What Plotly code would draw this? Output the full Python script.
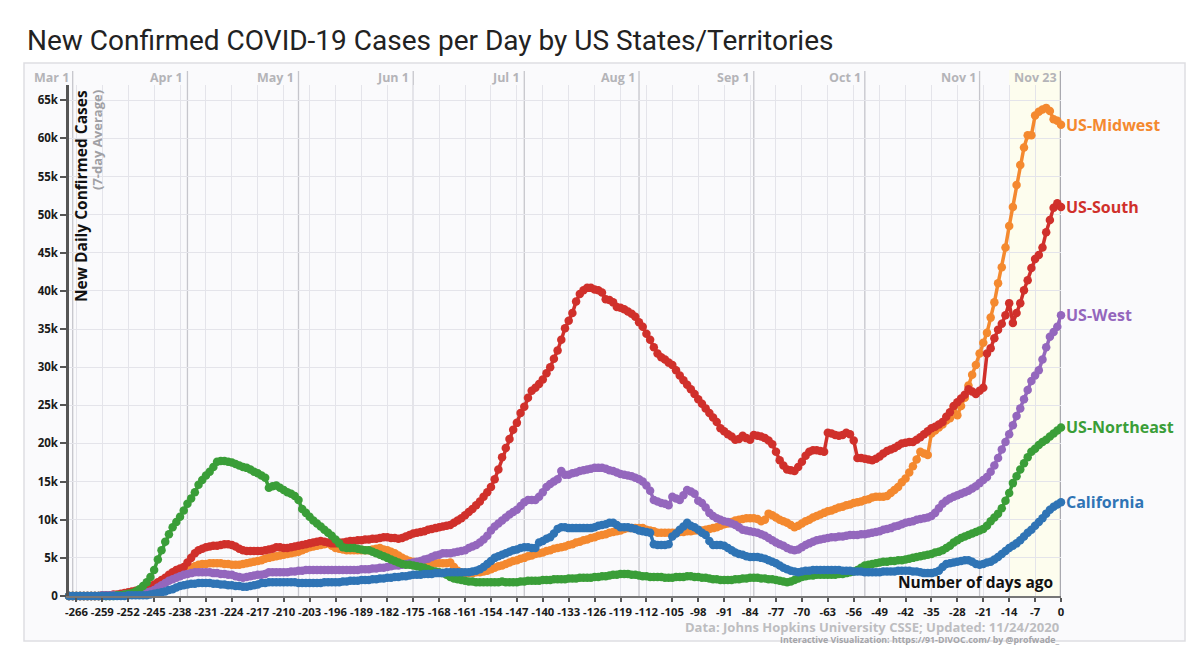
import plotly.graph_objects as go

# ---------------- data (thousands of new daily cases, 7-day average) ----------------
DAYS = list(range(-268, 1))

US_MIDWEST = [
    0, 0, 0,
    0, 0, 0, 0, 0, 0, 0,
    0, 0, 0.1, 0.1, 0.2, 0.2, 0.3,
    0.4, 0.5, 0.6, 0.7, 0.8, 1.0, 1.2,
    1.4, 1.6, 1.8, 2.1, 2.4, 2.6, 2.8,
    3.0, 3.3, 3.6, 3.9, 4.1, 4.2, 4.2,
    4.3, 4.3, 4.3, 4.3, 4.2, 4.2, 4.1,
    4.1, 4.1, 4.2, 4.3, 4.4, 4.5, 4.6,
    4.7, 4.9, 5.0, 5.1, 5.2, 5.3, 5.4,
    5.5, 5.6, 5.7, 5.8, 6.0, 6.2, 6.4,
    6.5, 6.6, 6.7, 6.8, 6.9, 6.6, 6.3,
    6.2, 6.1, 6.0, 6.0, 6.0, 6.0, 6.0,
    6.0, 6.0, 6.1, 6.2, 6.3, 6.1, 6.0,
    5.8, 5.6, 5.3, 5.0, 4.8, 4.6, 4.5,
    4.4, 4.3, 4.3, 4.3, 4.3, 4.3, 4.3,
    4.3, 4.3, 4.4, 3.8, 3.3, 3.1, 3.0,
    3.0, 3.0, 3.1, 3.1, 3.2, 3.3, 3.5,
    3.7, 3.9, 4.0, 4.2, 4.4, 4.6, 4.7,
    4.9, 5.0, 5.2, 5.3, 5.5, 5.6, 5.7,
    5.9, 6.0, 6.2, 6.3, 6.4, 6.5, 6.7,
    6.8, 7.0, 7.1, 7.3, 7.4, 7.6, 7.7,
    7.9, 8.0, 8.1, 8.3, 8.4, 8.5, 8.6,
    8.8, 8.9, 8.9, 8.9, 8.9, 8.9, 8.7,
    8.6, 8.5, 8.3, 8.3, 8.3, 8.3, 8.3,
    8.3, 8.4, 8.4, 8.5, 8.5, 8.6, 8.6,
    8.6, 8.7, 8.8, 8.9, 9.0, 9.2, 9.4,
    9.5, 9.7, 9.9, 10.0, 10.1, 10.2, 10.2,
    10.2, 10.1, 9.8, 10.0, 10.8, 10.6, 10.3,
    10.0, 9.8, 9.6, 9.3, 9.0, 9.2, 9.5,
    9.8, 10.0, 10.3, 10.5, 10.7, 10.9, 11.1,
    11.2, 11.4, 11.6, 11.7, 11.9, 12.0, 12.2,
    12.3, 12.4, 12.6, 12.7, 12.9, 13.0, 13.0,
    13.0, 13.1, 13.5, 13.9, 14.3, 14.9, 15.4,
    16.2, 17.0, 17.9, 18.9, 18.7, 18.5, 21.3,
    21.7, 22.1, 22.5, 23.0, 23.3, 24.8, 23.7,
    24.9, 26.0, 27.6, 29.0, 30.3, 31.8, 33.2,
    34.5, 36.5, 38.5, 41.0, 43.1, 45.7, 48.5,
    51.0, 53.9, 56.5, 58.8, 60.4, 60.4, 63.0,
    63.5, 63.8, 64.0, 63.6, 62.5, 62.3, 61.8,
]

US_SOUTH = [
    0, 0, 0,
    0, 0, 0, 0, 0, 0, 0.1,
    0.1, 0.1, 0.2, 0.2, 0.3, 0.4, 0.5,
    0.6, 0.7, 0.8, 0.9, 1.0, 1.2, 1.5,
    1.8, 2.1, 2.4, 2.8, 3.1, 3.4, 3.6,
    3.8, 4.4, 5.0, 5.6, 6.0, 6.2, 6.4,
    6.5, 6.6, 6.6, 6.7, 6.8, 6.8, 6.7,
    6.5, 6.2, 6.0, 5.9, 5.9, 5.9, 5.9,
    5.9, 6.0, 6.1, 6.2, 6.4, 6.4, 6.3,
    6.3, 6.4, 6.5, 6.6, 6.7, 6.8, 6.9,
    7.0, 7.1, 7.2, 7.1, 7.0, 6.9, 6.9,
    7.0, 7.0, 7.1, 7.2, 7.2, 7.3, 7.3,
    7.4, 7.4, 7.5, 7.5, 7.6, 7.7, 7.7,
    7.6, 7.6, 7.5, 7.6, 7.8, 8.0, 8.2,
    8.3, 8.4, 8.5, 8.7, 8.8, 8.9, 9.0,
    9.1, 9.2, 9.3, 9.6, 9.9, 10.2, 10.6,
    11.0, 11.4, 11.9, 12.4, 13.0, 13.6, 14.3,
    15.3, 16.6, 18.2, 19.4, 20.6, 21.8, 22.7,
    24.0, 24.8, 26.0, 26.9, 27.3, 27.8, 28.4,
    29.2, 30.0, 31.1, 32.2, 33.6, 35.1, 36.1,
    37.1, 38.6, 39.6, 40.1, 40.4, 40.4, 40.2,
    40.1, 39.8, 38.9, 38.8, 38.5, 37.9, 37.8,
    37.6, 37.3, 37.0, 36.6, 35.9, 35.3, 34.4,
    33.6, 32.6, 31.8, 31.3, 31.0, 30.6, 30.3,
    29.6, 28.9, 28.3, 27.7, 27.1, 26.5, 25.8,
    25.2, 24.6, 24.0, 23.4, 22.8, 22.0, 21.6,
    21.2, 20.9, 20.5, 20.6, 21.0, 20.7, 20.5,
    21.1, 21.0, 20.9, 20.7, 20.4, 19.9, 18.9,
    17.8, 17.1, 16.6, 16.5, 16.4, 16.9, 17.6,
    18.4, 18.9, 19.1, 19.1, 19.0, 18.9, 21.4,
    21.3, 21.1, 21.0, 21.1, 21.4, 21.2, 20.4,
    18.1, 18.1, 18.0, 17.9, 17.8, 18.0, 18.3,
    18.7, 19.0, 19.2, 19.4, 19.7, 20.0, 20.1,
    20.2, 20.2, 20.5, 20.8, 21.2, 21.6, 22.0,
    22.2, 22.5, 22.8, 23.5, 24.1, 24.9, 25.4,
    25.9, 26.4, 27.1, 26.8, 26.5, 26.9, 27.3,
    31.8, 32.5, 33.8, 34.9, 35.7, 36.8, 38.4,
    35.8, 37.1, 38.4, 40.1, 41.4, 43.0, 44.2,
    44.7, 45.7, 47.7, 49.3, 50.9, 51.5, 51.0,
]

US_WEST = [
    0, 0, 0,
    0, 0, 0, 0, 0, 0, 0.1,
    0.1, 0.1, 0.1, 0.1, 0.1, 0.2, 0.2,
    0.2, 0.3, 0.3, 0.4, 0.5, 0.6, 0.8,
    1.1, 1.4, 1.7, 2.0, 2.2, 2.4, 2.6,
    2.8, 2.9, 3.0, 3.1, 3.1, 3.1, 3.1,
    3.1, 3.0, 3.0, 2.9, 2.9, 2.8, 2.8,
    2.6, 2.5, 2.4, 2.5, 2.6, 2.7, 2.8,
    2.8, 2.9, 3.1, 3.1, 3.1, 3.1, 3.1,
    3.1, 3.2, 3.2, 3.3, 3.3, 3.4, 3.4,
    3.4, 3.4, 3.4, 3.4, 3.4, 3.4, 3.4,
    3.4, 3.4, 3.4, 3.4, 3.4, 3.4, 3.5,
    3.5, 3.5, 3.6, 3.6, 3.7, 3.7, 3.8,
    3.9, 4.0, 4.0, 4.1, 4.2, 4.3, 4.4,
    4.5, 4.6, 4.8, 4.9, 5.1, 5.3, 5.4,
    5.6, 5.6, 5.6, 5.7, 5.8, 5.9, 6.0,
    6.3, 6.5, 6.7, 7.0, 7.4, 7.9, 8.6,
    9.1, 9.5, 9.9, 10.3, 10.7, 11.0, 11.3,
    11.8, 12.3, 12.6, 12.6, 12.6, 13.0, 13.6,
    14.3, 14.7, 15.0, 15.3, 16.4, 15.9, 15.9,
    16.1, 16.2, 16.4, 16.5, 16.6, 16.7, 16.8,
    16.8, 16.8, 16.7, 16.5, 16.4, 16.2, 16.0,
    15.9, 15.8, 15.7, 15.5, 15.3, 15.0, 14.5,
    13.8, 12.6, 12.4, 12.2, 12.1, 11.9, 13.0,
    12.8, 12.6, 13.2, 13.9, 13.7, 13.4, 12.5,
    12.2, 11.6, 10.9, 10.5, 10.2, 10.0, 9.8,
    9.7, 9.5, 9.3, 9.0, 8.7, 8.6, 8.5,
    8.4, 8.3, 8.1, 7.9, 7.6, 7.3, 7.0,
    6.8, 6.6, 6.3, 6.1, 6.0, 6.1, 6.4,
    6.7, 6.9, 7.1, 7.3, 7.4, 7.5, 7.6,
    7.7, 7.7, 7.8, 7.8, 7.9, 8.0, 8.0,
    8.0, 8.1, 8.1, 8.2, 8.3, 8.4, 8.5,
    8.7, 8.8, 8.9, 9.1, 9.2, 9.4, 9.6,
    9.7, 9.8, 10.0, 10.1, 10.2, 10.3, 10.5,
    10.9, 11.5, 12.1, 12.5, 12.8, 13.0, 13.2,
    13.4, 13.6, 13.8, 14.1, 14.4, 14.8, 15.2,
    15.6, 16.3, 17.1, 18.1, 19.2, 20.2, 21.2,
    22.4, 23.6, 24.6, 25.8, 27.0, 28.2, 28.9,
    29.6, 31.0, 32.6, 34.0, 34.6, 35.3, 36.8,
]

US_NORTHEAST = [
    0, 0, 0,
    0, 0, 0, 0, 0, 0, 0,
    0, 0, 0, 0.1, 0.1, 0.2, 0.3,
    0.4, 0.6, 0.9, 1.3, 1.8, 2.5, 3.4,
    4.8, 6.0, 7.1, 8.1, 9.0, 9.7, 10.4,
    11.2, 12.1, 12.8, 13.6, 14.6, 15.2, 15.8,
    16.3, 16.9, 17.6, 17.7, 17.7, 17.6, 17.5,
    17.3, 17.1, 16.9, 16.8, 16.6, 16.3, 16.1,
    15.8, 15.5, 14.2, 14.4, 14.5, 14.2, 13.9,
    13.6, 13.4, 13.1, 12.6, 11.4, 10.9, 10.4,
    9.9, 9.5, 9.1, 8.7, 8.3, 7.9, 7.4,
    6.9, 6.4, 6.3, 6.3, 6.3, 6.2, 6.1,
    6.0, 6.0, 5.8, 5.6, 5.4, 5.2, 5.0,
    4.8, 4.6, 4.4, 4.2, 4.1, 4.1, 4.0,
    3.9, 3.8, 3.7, 3.5, 3.3, 3.2, 3.1,
    3.0, 2.8, 2.5, 2.3, 2.2, 2.1, 2.0,
    1.9, 1.9, 1.8, 1.8, 1.8, 1.8, 1.8,
    1.8, 1.8, 1.9, 1.8, 1.8, 1.8, 1.8,
    1.9, 1.9, 2.0, 2.0, 2.0, 2.0, 2.1,
    2.1, 2.1, 2.2, 2.2, 2.2, 2.2, 2.3,
    2.3, 2.3, 2.4, 2.4, 2.4, 2.4, 2.5,
    2.5, 2.6, 2.6, 2.7, 2.8, 2.8, 2.9,
    2.9, 2.9, 2.8, 2.8, 2.7, 2.6, 2.6,
    2.5, 2.5, 2.5, 2.5, 2.4, 2.4, 2.4,
    2.5, 2.5, 2.5, 2.6, 2.6, 2.5, 2.5,
    2.4, 2.4, 2.3, 2.2, 2.2, 2.1, 2.1,
    2.1, 2.1, 2.2, 2.2, 2.3, 2.3, 2.4,
    2.4, 2.4, 2.3, 2.3, 2.2, 2.2, 2.1,
    2.0, 1.9, 1.8, 1.9, 2.1, 2.3, 2.5,
    2.6, 2.7, 2.7, 2.8, 2.8, 2.8, 2.8,
    2.8, 2.8, 2.9, 2.9, 3.0, 3.1, 3.2,
    3.4, 3.7, 4.0, 4.1, 4.2, 4.3, 4.4,
    4.5, 4.5, 4.6, 4.6, 4.7, 4.7, 4.8,
    4.9, 5.0, 5.1, 5.2, 5.3, 5.4, 5.5,
    5.7, 5.8, 6.0, 6.3, 6.6, 7.0, 7.3,
    7.6, 7.8, 8.0, 8.2, 8.4, 8.6, 8.8,
    9.2, 9.8, 10.3, 10.8, 11.5, 12.5, 13.5,
    14.8, 15.7, 16.6, 17.4, 18.2, 18.9, 19.3,
    19.8, 20.2, 20.5, 20.9, 21.3, 21.7, 22.1,
]

CALIFORNIA = [
    0, 0, 0,
    0, 0, 0, 0, 0, 0, 0,
    0, 0, 0, 0, 0, 0, 0.1,
    0.1, 0.1, 0.1, 0.1, 0.1, 0.2, 0.3,
    0.4, 0.5, 0.6, 0.8, 0.9, 1.1, 1.3,
    1.4, 1.5, 1.6, 1.6, 1.7, 1.7, 1.7,
    1.7, 1.6, 1.6, 1.5, 1.5, 1.4, 1.4,
    1.3, 1.3, 1.2, 1.2, 1.3, 1.4, 1.5,
    1.7, 1.7, 1.8, 1.8, 1.8, 1.8, 1.8,
    1.8, 1.8, 1.8, 1.7, 1.7, 1.7, 1.7,
    1.7, 1.7, 1.7, 1.8, 1.8, 1.8, 1.8,
    1.8, 1.9, 1.9, 2.0, 2.0, 2.0, 2.1,
    2.1, 2.1, 2.2, 2.2, 2.3, 2.3, 2.4,
    2.4, 2.5, 2.5, 2.6, 2.6, 2.7, 2.8,
    2.8, 2.8, 2.9, 2.9, 2.9, 3.0, 3.0,
    3.0, 3.1, 3.1, 3.1, 3.1, 3.1, 3.1,
    3.1, 3.2, 3.3, 3.5, 3.8, 4.2, 4.6,
    5.0, 5.2, 5.4, 5.6, 5.8, 6.0, 6.1,
    6.3, 6.4, 6.4, 6.3, 6.3, 7.0, 7.2,
    7.5, 7.7, 8.2, 8.8, 9.0, 9.0, 8.9,
    8.9, 8.9, 8.9, 8.9, 8.9, 8.9, 9.0,
    9.2, 9.3, 9.4, 9.6, 9.6, 9.3, 9.0,
    9.0, 9.0, 8.9, 8.8, 8.6, 8.5, 8.4,
    8.3, 6.8, 6.7, 6.7, 6.7, 6.8, 7.8,
    8.2, 8.7, 9.1, 9.6, 9.2, 9.0, 8.7,
    8.3, 8.0, 7.2, 6.7, 6.7, 6.7, 6.6,
    6.3, 6.0, 5.7, 5.5, 5.4, 5.2, 5.1,
    5.1, 5.1, 5.0, 4.9, 4.7, 4.5, 4.3,
    4.0, 3.7, 3.5, 3.3, 3.2, 3.1, 3.2,
    3.3, 3.3, 3.4, 3.4, 3.4, 3.4, 3.4,
    3.4, 3.4, 3.4, 3.3, 3.3, 3.3, 3.2,
    3.2, 3.2, 3.1, 3.1, 3.1, 3.1, 3.1,
    3.2, 3.2, 3.2, 3.2, 3.3, 3.3, 3.3,
    3.3, 3.2, 3.2, 3.1, 3.0, 3.0, 3.0,
    3.1, 3.3, 3.8, 4.2, 4.3, 4.4, 4.5,
    4.6, 4.7, 4.7, 4.5, 4.2, 4.1, 4.2,
    4.4, 4.5, 4.8, 5.1, 5.5, 5.9, 6.3,
    6.6, 6.9, 7.3, 7.8, 8.3, 8.7, 9.2,
    9.7, 10.2, 10.8, 11.3, 11.7, 12.0, 12.3,
]

SERIES_NAMES = ["US-Midwest", "US-South", "US-West", "US-Northeast", "California"]
SERIES_VALUES = [US_MIDWEST, US_SOUTH, US_WEST, US_NORTHEAST, CALIFORNIA]
SERIES_COLORS = ["#f4892f", "#d0302b", "#9467bd", "#3a9e38", "#2f74b5"]
DRAW_ORDER = ["US-Midwest", "US-South", "US-West", "US-Northeast", "California"]

X_TICK_VALUES = list(range(-266, 1, 7))
X_TICK_LABELS = [str(v) for v in X_TICK_VALUES]
Y_TICK_VALUES = list(range(0, 66, 5))
Y_TICK_LABELS = ["0"] + [f"{v}k" for v in Y_TICK_VALUES[1:]]

MONTH_LABELS = ["Mar 1", "Apr 1", "May 1", "Jun 1", "Jul 1", "Aug 1", "Sep 1", "Oct 1", "Nov 1", "Nov 23"]
MONTH_DAYS = [-267, -236, -206, -175, -145, -114, -83, -53, -22, 0]
HIGHLIGHT_START = -14

TITLE = "New Confirmed COVID-19 Cases per Day by US States/Territories"
Y_TITLE = "New Daily Confirmed Cases"
Y_SUBTITLE = "(7-day Average)"
X_TITLE = "Number of days ago"
SOURCE = "Data: Johns Hopkins University CSSE; Updated: 11/24/2020"
CREDIT = "Interactive Visualization: https://91-DIVOC.com/ by @profwade_"

# ---------------- figure ----------------
W, H = 1200, 648
ML, MR, MT, MB = 69, 139, 85, 52
PW, PH = W - ML - MR, H - MT - MB


def px_x(px):
    return (px - ML) / PW


def px_y(py):
    return (H - MB - py) / PH


FONT = "Open Sans"
fig = go.Figure()

for name in DRAW_ORDER:
    i = SERIES_NAMES.index(name)
    vals = SERIES_VALUES[i]
    assert len(vals) == len(DAYS), (name, len(vals))
    fig.add_trace(go.Scatter(
        x=DAYS, y=vals, mode="lines+markers", name=name,
        line=dict(color=SERIES_COLORS[i], width=3.5),
        marker=dict(color=SERIES_COLORS[i], size=8.5, line=dict(width=0)),
        cliponaxis=False, showlegend=False, hoverinfo="skip",
    ))

shapes = []
# outer panel
shapes.append(dict(type="rect", xref="paper", yref="paper",
                   x0=px_x(24), x1=px_x(1185), y0=px_y(641), y1=px_y(63),
                   fillcolor="#fafafc", line=dict(color="#dedee2", width=1.5), layer="below"))
# highlighted recent two weeks
shapes.append(dict(type="rect", xref="x", yref="paper",
                   x0=HIGHLIGHT_START, x1=0, y0=0, y1=px_y(70),
                   fillcolor="#fdfdee", line=dict(width=0), layer="below"))
# month lines
for lab, d in zip(MONTH_LABELS, MONTH_DAYS):
    last = d == 0
    shapes.append(dict(type="line", xref="x", yref="paper", x0=d, x1=d,
                       y0=0, y1=px_y(71),
                       line=dict(color="#a9a9b0" if last else "#c6c6cc", width=2.5 if last else 1.3),
                       layer="below"))

annotations = []
for lab, d in zip(MONTH_LABELS, MONTH_DAYS):
    annotations.append(dict(x=d, y=px_y(78), xref="x", yref="paper", text=lab,
                            showarrow=False, xanchor="right", yanchor="middle", xshift=-2,
                            font=dict(family=FONT, size=12.5, color="#b4b4b8", weight="bold")))

for i, name in enumerate(SERIES_NAMES):
    annotations.append(dict(x=0, y=SERIES_VALUES[i][-1], xref="x", yref="y", text=name,
                            showarrow=False, xanchor="left", yanchor="middle", xshift=3,
                            font=dict(family=FONT, size=16, color=SERIES_COLORS[i], weight="bold")))

annotations.append(dict(x=px_x(81), y=px_y(88), xref="paper", yref="paper", text=Y_TITLE,
                        textangle=-90, showarrow=False, xanchor="center", yanchor="top",
                        font=dict(family=FONT, size=15.5, color="#111111", weight="bold")))
annotations.append(dict(x=px_x(97), y=px_y(88), xref="paper", yref="paper", text=Y_SUBTITLE,
                        textangle=-90, showarrow=False, xanchor="center", yanchor="top",
                        font=dict(family=FONT, size=13, color="#a0a0a4", weight="bold")))
annotations.append(dict(x=1, y=0, xref="paper", yref="paper", text=X_TITLE,
                        showarrow=False, xanchor="right", yanchor="bottom", xshift=-6, yshift=1,
                        font=dict(family=FONT, size=15.5, color="#111111", weight="bold")))
annotations.append(dict(x=1, y=px_y(627), xref="paper", yref="paper", text=SOURCE,
                        showarrow=False, xanchor="right", yanchor="middle",
                        font=dict(family=FONT, size=13, color="#bdbdc0", weight="bold")))
annotations.append(dict(x=1, y=px_y(640), xref="paper", yref="paper", text=CREDIT,
                        showarrow=False, xanchor="right", yanchor="middle",
                        font=dict(family=FONT, size=8.8, color="#a4a4a8", weight="bold")))

fig.update_layout(
    width=W, height=H, autosize=False,
    margin=dict(l=ML, r=MR, t=MT, b=MB),
    paper_bgcolor="white", plot_bgcolor="rgba(0,0,0,0)",
    title=dict(text=TITLE, x=27 / W, xanchor="left", xref="container",
               y=1 - 40 / H, yanchor="middle", yref="container",
               font=dict(family="Roboto", size=28, color="#222222")),
    shapes=shapes, annotations=annotations,
    xaxis=dict(range=[-268, 0], tickvals=X_TICK_VALUES, ticktext=X_TICK_LABELS,
               tickangle=0, ticks="outside", ticklen=4, tickwidth=1.5, tickcolor="#555",
               showline=True, linecolor="#777", linewidth=2,
               showgrid=True, gridcolor="#e4e4ea", gridwidth=1, zeroline=False,
               tickfont=dict(family=FONT, size=11.3, color="#1a1a1a", weight="bold")),
    yaxis=dict(range=[0, 67], tickvals=Y_TICK_VALUES, ticktext=Y_TICK_LABELS,
               ticks="outside", ticklen=6, tickwidth=1.5, tickcolor="#555",
               showline=True, linecolor="#555", linewidth=2.5,
               showgrid=True, gridcolor="#e4e4ea", gridwidth=1, zeroline=False,
               tickfont=dict(family=FONT, size=11.5, color="#1a1a1a", weight="bold")),
)

fig.write_html("out.html")
